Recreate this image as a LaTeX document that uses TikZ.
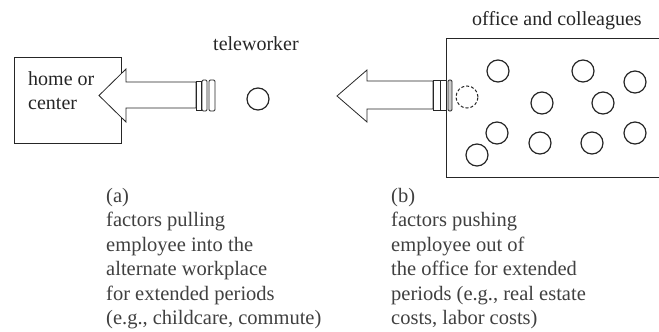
\documentclass[tikz,border=0pt]{standalone}
\usepackage{fontspec}
\setmainfont{Liberation Serif}
\usetikzlibrary{positioning}
\tikzset{
  place/.style={draw,line width=0.9pt,inner sep=0pt},
  colleague/.style={draw,circle,line width=1.2pt,minimum size=22pt,inner sep=0pt},
  leaving/.style={colleague,line width=1pt,dash pattern=on 3pt off 2pt},
  blockarrow/.style={draw,line width=0.8pt,fill=white},
  tailcap/.style={draw,line width=0.7pt},
  stripe/.style={draw,line width=0.8pt,rounded corners=1.2pt},
  lbl/.style={font=\fontsize{20}{24}\selectfont,inner sep=0pt,anchor=base west},
  caption/.style={font=\fontsize{20.5}{24.5}\selectfont,text=black!75,
                  align=left,inner sep=0pt,anchor=north west},
}
\begin{document}
\begin{tikzpicture}[x=1pt,y=-1pt,black!85]
  \useasboundingbox (0,0) rectangle (659,332);
  % --- home or center (left) ---
  \node[place,minimum width=107pt,minimum height=86pt] (home) at (67.5,100) {};
  \node[lbl] (homelbl) at (28,85) {home or};
  \node[lbl] (homelbl2) at (28,109) {center};
  % --- pulling arrow ---
  \draw[blockarrow] (196,82) -- (126,82) -- (126,69) -- (99,95.5) -- (126,122)
                    -- (126,108) -- (196,108) -- cycle;
  \draw[tailcap] (196,81) rectangle (201,110);
  \draw[stripe] (202,80) rectangle (207,111);
  \draw[stripe] (209,80) rectangle (215,111);
  % --- teleworker ---
  \node[colleague] (tw) at (258,99) {};
  \node[lbl] (twlbl) at (213,50) {teleworker};
  % --- office and colleagues (right, open to the edge) ---
  \draw[place] (659,38) -- (446,38) -- (446,177) -- (659,177);
  \node[lbl] (officelbl) at (472,25) {office and colleagues};
  \foreach \n/\x/\y in {1/498/71,2/583/71,3/635/82,4/542/103,5/603/103,
                        6/497/133,7/477/155,8/540/143,9/592/143,10/635/133} {
    \node[colleague] (c\n) at (\x,\y) {};
  }
  % --- pushing arrow ---
  \draw[blockarrow] (433,81) -- (367,81) -- (367,70) -- (337,96) -- (367,122)
                    -- (367,109) -- (433,109) -- cycle;
  \draw[tailcap] (433,80) rectangle (440,110);
  \draw[tailcap] (440,80) rectangle (446,110);
  \draw[stripe,fill=black!20] (448,80) rectangle (452,111);
  \node[leaving] (out) at (467,97) {};
  % --- captions ---
  \node[caption] (capa) at (106,188) {(a)\\factors pulling\\employee into the\\
    alternate workplace\\for extended periods\\(e.g., childcare, commute)};
  \node[caption] (capb) at (391,188) {(b)\\factors pushing\\employee out of\\
    the office for extended\\periods (e.g., real estate\\costs, labor costs)};
\end{tikzpicture}
\end{document}
